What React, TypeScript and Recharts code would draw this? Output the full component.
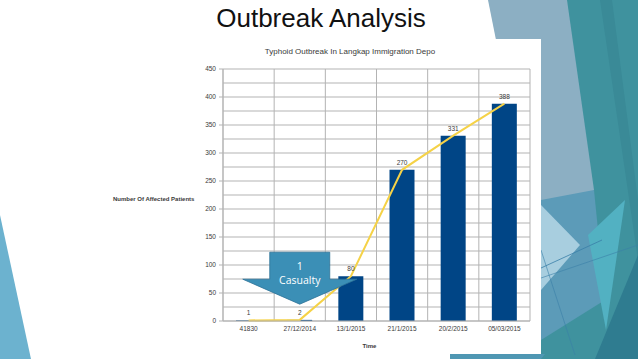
import {
  ComposedChart,
  Bar,
  Line,
  XAxis,
  YAxis,
  CartesianGrid,
  LabelList,
  ReferenceDot,
} from "recharts"

// chart data
const dates = ["41830", "27/12/2014", "13/1/2015", "21/1/2015", "20/2/2015", "05/03/2015"]
const patients = [1, 2, 80, 270, 331, 388]
const yTicks = [0, 50, 100, 150, 200, 250, 300, 350, 400, 450]
const casualtyDate = "27/12/2014"
const casualtyLines = ["1", "Casualty"]

const data = dates.map((date, i) => ({ date, value: patients[i] }))

const gridColor = "#b3b3b3"
const textColor = "#3a3a3a"
const font = "'Liberation Sans', Arial, sans-serif"

// minor gridlines every 25, vertical lines on category boundaries
const gridRows = ({ offset }: any) =>
  Array.from({ length: 19 }, (_, i) => offset.top + (offset.height * i) / 18)
const gridCols = ({ offset }: any) =>
  Array.from({ length: dates.length + 1 }, (_, i) => offset.left + (offset.width * i) / dates.length)

function CalloutArrow(props: any) {
  const { cx, cy } = props
  const pts = [
    [cx - 30, cy - 52],
    [cx + 30, cy - 52],
    [cx + 30, cy - 25],
    [cx + 57, cy - 25],
    [cx, cy],
    [cx - 57, cy - 25],
    [cx - 30, cy - 25],
  ]
    .map((p) => p.join(","))
    .join(" ")
  return (
    <g>
      <polygon points={pts} fill="#3b8fb6" stroke="#2d7298" strokeWidth={0.8} />
      {casualtyLines.map((t, i) => (
        <text
          key={t}
          x={cx}
          y={cy - 34 + i * 14}
          textAnchor="middle"
          fill="#ffffff"
          fontSize={10.5}
          fontFamily="'Open Sans', sans-serif"
        >
          {t}
        </text>
      ))}
    </g>
  )
}

function YLabel(props: any) {
  const vb = props.viewBox
  return (
    <text
      x={vb.x + 13}
      y={vb.y + vb.height / 2 + 6}
      fontSize={6}
      fontWeight="bold"
      fill={textColor}
      fontFamily={font}
    >
      Number Of Affected Patients
    </text>
  )
}

function SlideBackground() {
  return (
    <svg width={638} height={359} style={{ position: "absolute", left: 0, top: 0 }}>
      <polygon points="0,215 31,359 0,359" fill="#6cb2cf" />
      <polygon points="555,0 638,0 638,359 450,359" fill="#3f929e" />
      <polygon points="488,0 567,0 594,190 541,230 500,60" fill="#8cafc3" />
      <polygon points="600,0 612,0 638,200 638,260" fill="#3a8a97" />
      <polygon points="541,200 594,190 605,300 541,340" fill="#5c9bb8" />
      <polygon points="541,205 580,245 541,290" fill="#a8cedf" />
      <polygon points="588,235 625,200 606,330" fill="#52b1c2" />
      <polygon points="595,359 638,255 638,359" fill="#2f7c90" />
      <polygon points="450,354 545,354 541,359 450,359" fill="#4f97b3" />
      <line x1={541} y1={268} x2={602} y2={240} stroke="#3a7fa8" strokeWidth={0.8} />
      <line x1={541} y1={278} x2={638} y2={245} stroke="#3a7fa8" strokeWidth={0.6} />
      <line x1={541} y1={250} x2={575} y2={355} stroke="#3a7fa8" strokeWidth={0.6} />
      <rect x={60} y={39} width={481} height={315} fill="#ffffff" />
    </svg>
  )
}

export default function App() {
  return (
    <div
      style={{
        position: "absolute",
        left: 0,
        top: 0,
        width: 638,
        height: 359,
        overflow: "hidden",
        background: "#ffffff",
      }}
    >
      <SlideBackground />
      <div
        style={{
          position: "absolute",
          left: 0,
          top: 3,
          width: 642,
          textAlign: "center",
          fontFamily: font,
          fontSize: 26,
          lineHeight: "30px",
          color: "#111",
        }}
      >
        Outbreak Analysis
      </div>
      <div
        style={{
          position: "absolute",
          left: 200,
          top: 47,
          width: 300,
          textAlign: "center",
          fontFamily: font,
          fontSize: 8,
          lineHeight: "10px",
          color: textColor,
        }}
      >
        Typhoid Outbreak In Langkap Immigration Depo
      </div>
      <div style={{ position: "absolute", left: 100, top: 39 }}>
        <ComposedChart
          width={441}
          height={315}
          data={data}
          margin={{ top: 30, right: 11, bottom: 3, left: 0 }}
        >
          <CartesianGrid
            stroke={gridColor}
            strokeWidth={1}
            horizontalCoordinatesGenerator={gridRows}
            verticalCoordinatesGenerator={gridCols}
          />
          <XAxis
            dataKey="date"
            height={30}
            stroke={gridColor}
            tickLine={false}
            tickSize={4}
            tickMargin={1}
            interval={0}
            tick={{ fontSize: 6.5, fill: textColor, fontFamily: font }}
            label={{
              value: "Time",
              position: "insideBottom",
              offset: 3,
              dx: -7,
              fontSize: 6,
              fontWeight: "bold",
              fill: textColor,
              fontFamily: font,
            }}
          />
          <YAxis
            width={123}
            domain={[0, 450]}
            ticks={yTicks}
            interval={0}
            stroke={gridColor}
            tickSize={4}
            tickMargin={3}
            tick={{ fontSize: 6.5, fill: textColor, fontFamily: font }}
            label={<YLabel />}
          />
          <Bar dataKey="value" fill="#004586" barSize={25} isAnimationActive={false} />
          <Line
            type="linear"
            dataKey="value"
            stroke="#f5d247"
            strokeWidth={2}
            dot={false}
            activeDot={false}
            isAnimationActive={false}
          >
            <LabelList
              dataKey="value"
              position="top"
              offset={5}
              fontSize={6.5}
              fill={textColor}
              fontFamily={font}
            />
          </Line>
          <ReferenceDot x={casualtyDate} y={30} shape={<CalloutArrow />} />
        </ComposedChart>
      </div>
    </div>
  )
}
